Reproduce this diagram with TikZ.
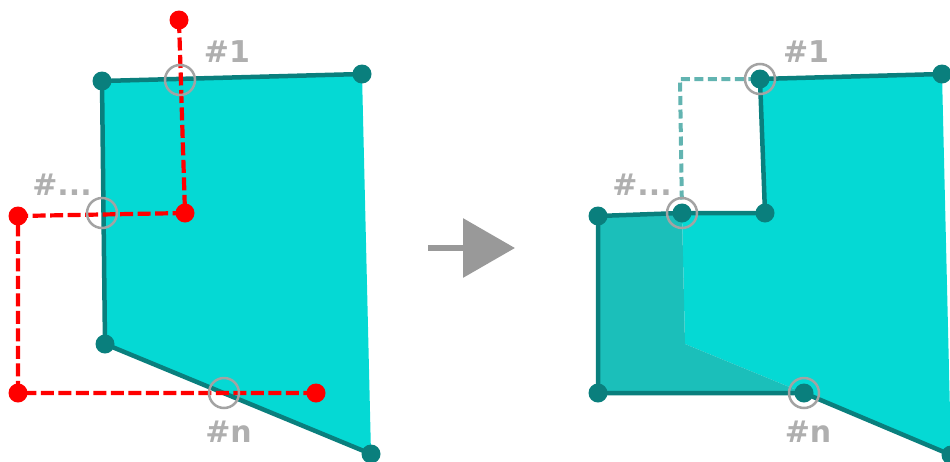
\documentclass[tikz,border=0pt]{standalone}
\usepackage{fontspec}
\setmainfont{DejaVu Sans}
\usetikzlibrary{arrows.meta}
\definecolor{cyanfill}{HTML}{05D9D4}
\definecolor{tealline}{HTML}{0A7F7D}
\definecolor{addfill}{HTML}{1BBFBA}
\definecolor{lblgray}{HTML}{AFAFAF}
\definecolor{ringgray}{HTML}{A3A3A3}
\definecolor{dashteal}{HTML}{62B4B1}
\definecolor{arrowgray}{HTML}{999999}
\tikzset{
 vdot/.style={circle, fill=tealline, inner sep=0pt, minimum size=19pt},
 rdot/.style={circle, fill=red, inner sep=0pt, minimum size=19pt},
 ring/.style={circle, draw=ringgray, line width=2.5pt, inner sep=0pt, minimum size=30pt},
 lbl/.style={text=lblgray, font=\bfseries\fontsize{30}{30}\selectfont, anchor=base, inner sep=0pt},
 polyedge/.style={draw=tealline, line width=4.5pt, line join=round},
 reddash/.style={draw=red, line width=4.2pt, dash pattern=on 13pt off 4.5pt},
 ghost/.style={draw=dashteal, line width=4pt, dash pattern=on 9pt off 4.5pt},
 bigarrow/.style={draw=arrowgray, line width=6.5pt, -{Triangle[length=52pt,width=58pt]}},
}
\begin{document}
\begin{tikzpicture}[x=1pt,y=-1pt]
\useasboundingbox (0,0) rectangle (950,461);
% ---------- left figure ----------
\coordinate (A) at (102,81);
\coordinate (B) at (362,74);
\coordinate (C) at (371,454);
\coordinate (D) at (105,344);
\fill[cyanfill] (A) -- (B) -- (C) -- (D) -- cycle;
\draw[polyedge] (B) -- (A) -- (D) -- (C);
\node[vdot] (dA) at (A) {};
\node[vdot] (dB) at (B) {};
\node[vdot] (dC) at (C) {};
\node[vdot] (dD) at (D) {};
\coordinate (r1) at (179,20);
\coordinate (r2) at (185,213);
\coordinate (r3) at (18,216);
\coordinate (r4) at (18,393);
\coordinate (r5) at (316,393);
\draw[reddash] (r1) -- (r2) -- (r3) -- (r4) -- (r5);
\node[rdot] (dr1) at (r1) {};
\node[rdot] (dr2) at (r2) {};
\node[rdot] (dr3) at (r3) {};
\node[rdot] (dr4) at (r4) {};
\node[rdot] (dr5) at (r5) {};
\node[ring] (i1) at (180,80) {};
\node[ring] (i2) at (102,213) {};
\node[ring] (i3) at (224,393) {};
\node[lbl] (l1) at (227,62.5) {\#1};
\node[lbl] (l2) at (62,195) {\#...};
\node[lbl] (l3) at (228.5,442) {\#n};
% ---------- arrow ----------
\coordinate (arS) at (428,248);
\coordinate (arE) at (515,248);
\draw[bigarrow] (arS) -- (arE);
% ---------- right figure ----------
\coordinate (P1) at (760,79);
\coordinate (B2) at (942,74);
\coordinate (C2) at (951,455);
\coordinate (N2) at (804,393);
\coordinate (D2) at (685,344);
\coordinate (Q2) at (682,213);
\coordinate (K2) at (765,213);
\coordinate (L2) at (598,216);
\coordinate (M2) at (598,393);
\coordinate (A2) at (680,79);
\fill[cyanfill] (P1) -- (B2) -- (C2) -- (N2) -- (D2) -- (Q2) -- (K2) -- cycle;
\fill[addfill] (L2) -- (Q2) -- (D2) -- (N2) -- (M2) -- cycle;
\draw[ghost] (Q2) -- (A2) -- (P1);
\draw[polyedge] (B2) -- (P1) -- (K2) -- (Q2) -- (L2) -- (M2) -- (N2) -- (C2);
\node[ring] (j1) at (P1) {};
\node[ring] (j2) at (Q2) {};
\node[ring] (j3) at (N2) {};
\node[vdot] (eP1) at (P1) {};
\node[vdot] (eB2) at (B2) {};
\node[vdot] (eC2) at (C2) {};
\node[vdot] (eN2) at (N2) {};
\node[vdot] (eQ2) at (Q2) {};
\node[vdot] (eK2) at (K2) {};
\node[vdot] (eL2) at (L2) {};
\node[vdot] (eM2) at (M2) {};
\node[lbl] (m1) at (806,62.5) {\#1};
\node[lbl] (m2) at (642,195) {\#...};
\node[lbl] (m3) at (808,442) {\#n};
\end{tikzpicture}
\end{document}
